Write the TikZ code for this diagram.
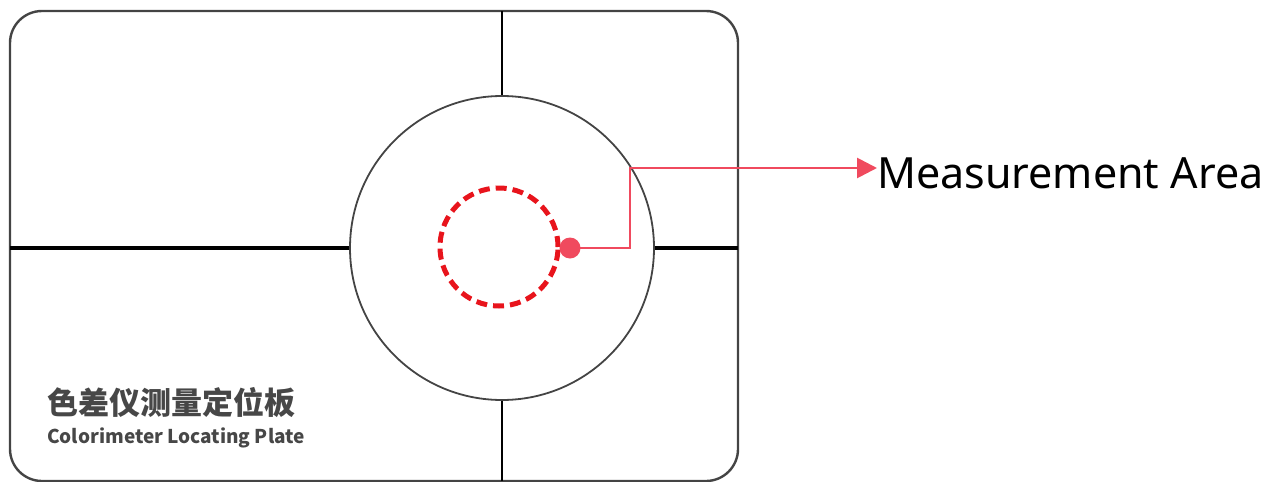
\documentclass[tikz,border=0pt]{standalone}
\usepackage{fontspec}
\setmainfont{Noto Sans}
\newfontfamily\cjk{Noto Sans CJK SC}
\usetikzlibrary{arrows.meta}
\definecolor{plategray}{HTML}{444444}
\definecolor{leadred}{HTML}{F04A5E}
\definecolor{dashred}{HTML}{E8141C}
\tikzset{
  plate/.style={draw=plategray,line width=2.4pt,rounded corners=32pt},
  cross/.style={draw=black,line width=3.4pt},
  crossv/.style={draw=black,line width=2.4pt},
  ring/.style={draw=plategray,line width=1.8pt},
  dashring/.style={draw=dashred,line width=5pt,dash pattern=on 11pt off 6pt},
  lead/.style={draw=leadred,line width=2.8pt},
  caption/.style={anchor=west,inner sep=0pt,text=black!72},
}
\begin{document}
\begin{tikzpicture}[x=1pt,y=-1pt]
\useasboundingbox (0,0) rectangle (1275,482);
\draw[plate] (10,11) rectangle (738,481);
\coordinate (c) at (502,248);
\node[circle,minimum size=304pt,inner sep=0pt,ring] (big) at (c) {};
\draw[crossv] (502,11) -- (big.north);
\draw[crossv] (big.south) -- (502,481);
\draw[cross] (10,248) -- (big.west);
\draw[cross] (big.east) -- (738,248);
\node[circle,minimum size=118pt,inner sep=0pt,dashring] (meas) at (499,247) {};
\node[circle,fill=leadred,minimum size=21pt,inner sep=0pt] (dot) at (570,248) {};
\coordinate (k1) at (630,248);
\coordinate (k2) at (630,168);
\node[anchor=west,inner sep=0pt,font=\fontsize{43}{45}\selectfont] (lbl) at (877,173) {Measurement Area};
\draw[lead,-{Triangle[length=20pt,width=20pt]}] (dot.center) -- (k1) -- (k2) -- (lbl.west |- k2);
\node[caption,font=\cjk\bfseries\fontsize{31}{33}\selectfont] (cn) at (47,403) {色差仪测量定位板};
\node[caption,font=\cjk\bfseries\fontsize{19}{21}\selectfont] (en) at (47,438) {Colorimeter Locating Plate};
\end{tikzpicture}
\end{document}
